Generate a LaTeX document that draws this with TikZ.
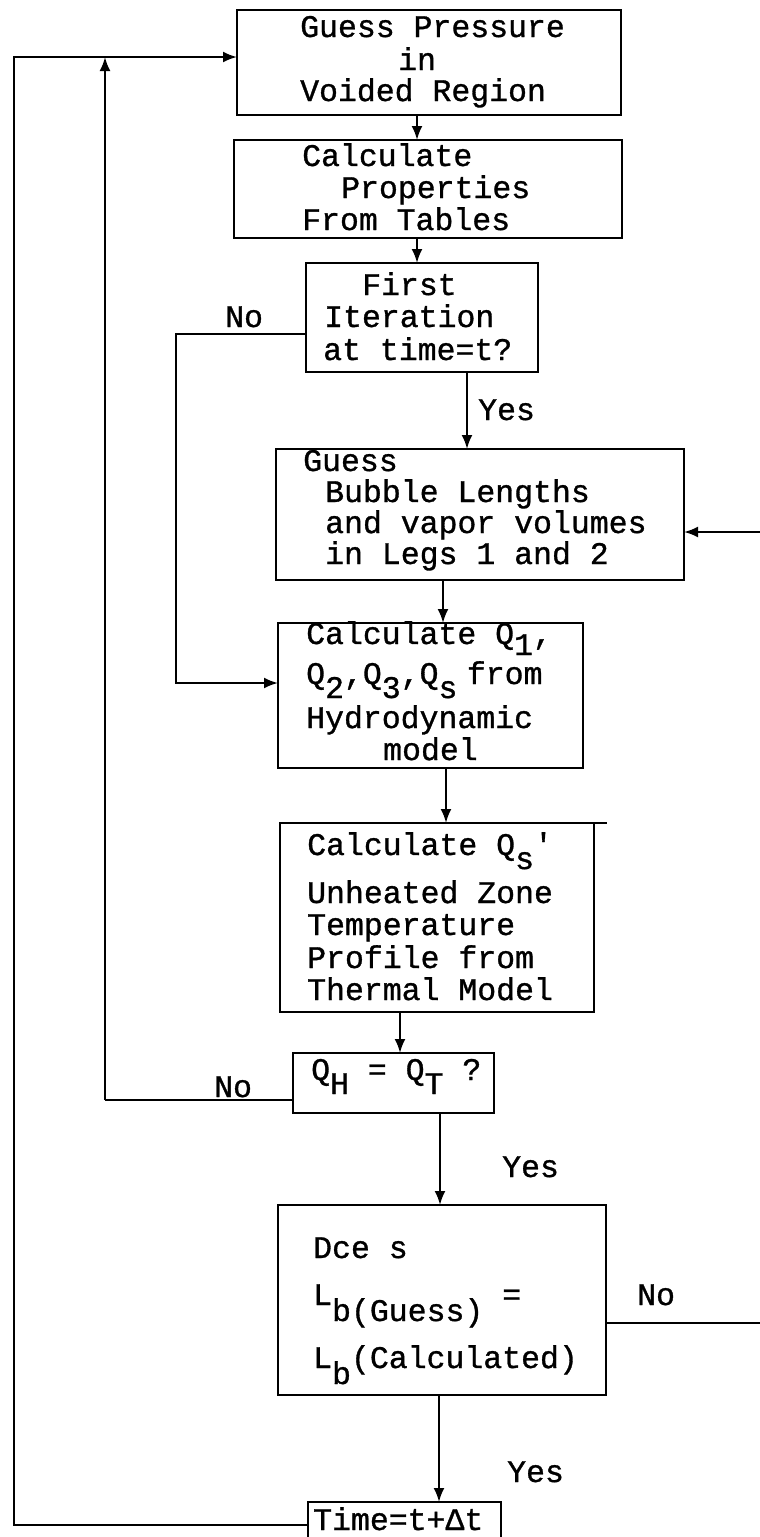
\documentclass[tikz,border=0pt]{standalone}
\usepackage{fontspec}
\newfontfamily\tw[FakeBold=1]{Liberation Mono}
\usetikzlibrary{arrows.meta}
\newcommand\dn[1]{\raisebox{-14pt}{#1}}
\tikzset{
  box/.style={draw, line width=2.4pt, inner sep=0pt, outer sep=0pt},
  arr/.style={line width=2.2pt, -{Latex[length=14pt,width=11pt]}},
  ln/.style={line width=2.2pt},
  txt/.style={anchor=base west, inner sep=0pt, font=\tw\fontsize{31.5}{33}\selectfont},
}
\begin{document}
\begin{tikzpicture}[x=1pt,y=-1pt]
\useasboundingbox (0,0) rectangle (760,1537);
% boxes
\node[box, minimum width=384pt, minimum height=105pt] (b1) at (429,62.5) {};
\node[box, minimum width=388pt, minimum height=98pt] (b2) at (428,189) {};
\node[box, minimum width=232pt, minimum height=109pt] (b3) at (422,317.5) {};
\node[box, minimum width=408pt, minimum height=131pt] (b4) at (480,514.5) {};
\node[box, minimum width=305pt, minimum height=145pt] (b5) at (430.5,695.5) {};
\node[box, minimum width=314pt, minimum height=189pt] (b6) at (437,917.5) {};
\node[box, minimum width=201pt, minimum height=60pt] (b7) at (393.5,1083) {};
\node[box, minimum width=328pt, minimum height=190pt] (b8) at (442,1300) {};
\node[box, minimum width=193pt, minimum height=48pt] (b9) at (404.5,1526) {};
\draw[ln] (b6.north east) -- ++(13,0);
% texts
\node[txt] (t1a) at (300,37) {Guess Pressure};
\node[txt] (t1b) at (398,70) {in};
\node[txt] (t1c) at (300,101) {Voided Region};
\node[txt] (t2a) at (302,166) {Calculate};
\node[txt] (t2b) at (341,198) {Properties};
\node[txt] (t2c) at (302,230) {From Tables};
\node[txt] (t3a) at (362,295) {First};
\node[txt] (t3b) at (324,327) {Iteration};
\node[txt] (t3c) at (323,360) {at time=t?};
\node[txt] (t4a) at (303,471) {Guess};
\node[txt] (t4b) at (325,502) {Bubble Lengths};
\node[txt] (t4c) at (325,533) {and vapor volumes};
\node[txt] (t4d) at (325,564) {in Legs 1 and 2};
\node[txt] (t5a) at (306,644) {Calculate Q\raisebox{-11pt}{1},};
\node[txt] (t5b) at (306,684) {Q\dn{2},Q\dn{3},Q\dn{s}\hspace{0.3em}from};
\node[txt] (t5c) at (306,728) {Hydrodynamic};
\node[txt] (t5d) at (383,760) {model};
\node[txt] (t6a) at (307,855) {Calculate Q\dn{s}'};
\node[txt] (t6b) at (307,903) {Unheated Zone};
\node[txt] (t6c) at (307,935) {Temperature};
\node[txt] (t6d) at (307,968) {Profile from};
\node[txt] (t6e) at (307,1000) {Thermal Model};
\node[txt] (t7a) at (311,1080) {Q\dn{H} = Q\dn{T} ?};
\node[txt] (t8a) at (313,1258) {Dce s};
\node[txt] (t8b) at (313,1305) {L\raisebox{-16pt}{b(Guess)} =};
\node[txt] (t8c) at (313,1368) {L\raisebox{-16pt}{b}(Calculated)};
\node[txt] (t9a) at (313,1530) {Time=t+Δt};
% labels
\node[txt] (l1) at (225,327) {No};
\node[txt] (l2) at (478,420) {Yes};
\node[txt] (l3) at (214,1097) {No};
\node[txt] (l4) at (502,1177) {Yes};
\node[txt] (l5) at (637,1305) {No};
\node[txt] (l6) at (507,1482) {Yes};
% helper coordinates
\coordinate (ca) at (417,0);
\coordinate (cb) at (467,0);
\coordinate (cc) at (443,0);
\coordinate (cd) at (446,0);
\coordinate (ce) at (400,0);
\coordinate (cf) at (440,0);
\coordinate (cg) at (439,0);
\coordinate (nl) at (176,334);
\coordinate (nl2) at (176,683);
\coordinate (re1) at (760,532);
\coordinate (re2) at (760,1323);
\coordinate (n2) at (105,1100);
\coordinate (n2t) at (105,57);
\coordinate (tl) at (14,57);
\coordinate (bl) at (14,1525);
% connectors
\draw[arr] (b1.south -| ca) -- (b2.north -| ca);
\draw[arr] (b2.south -| ca) -- (b3.north -| ca);
\draw[arr] (b3.south -| cb) -- (b4.north -| cb);
\draw[arr] (b3.west |- nl) -- (nl) -- (nl2) -- (b5.west |- nl2);
\draw[arr] (re1) -- (b4.east |- re1);
\draw[arr] (b4.south -| cc) -- (b5.north -| cc);
\draw[arr] (b5.south -| cd) -- (b6.north -| cd);
\draw[arr] (b6.south -| ce) -- (b7.north -| ce);
\draw[ln] (b7.west |- n2) -- (n2);
\draw[arr] (n2) -- (n2t);
\draw[arr] (b7.south -| cf) -- (b8.north -| cf);
\draw[ln] (b8.east |- re2) -- (re2);
\draw[arr] (b8.south -| cg) -- (b9.north -| cg);
\draw[arr] (b9.west |- bl) -- (bl) -- (tl) -- (b1.west |- tl);
\end{tikzpicture}
\end{document}
